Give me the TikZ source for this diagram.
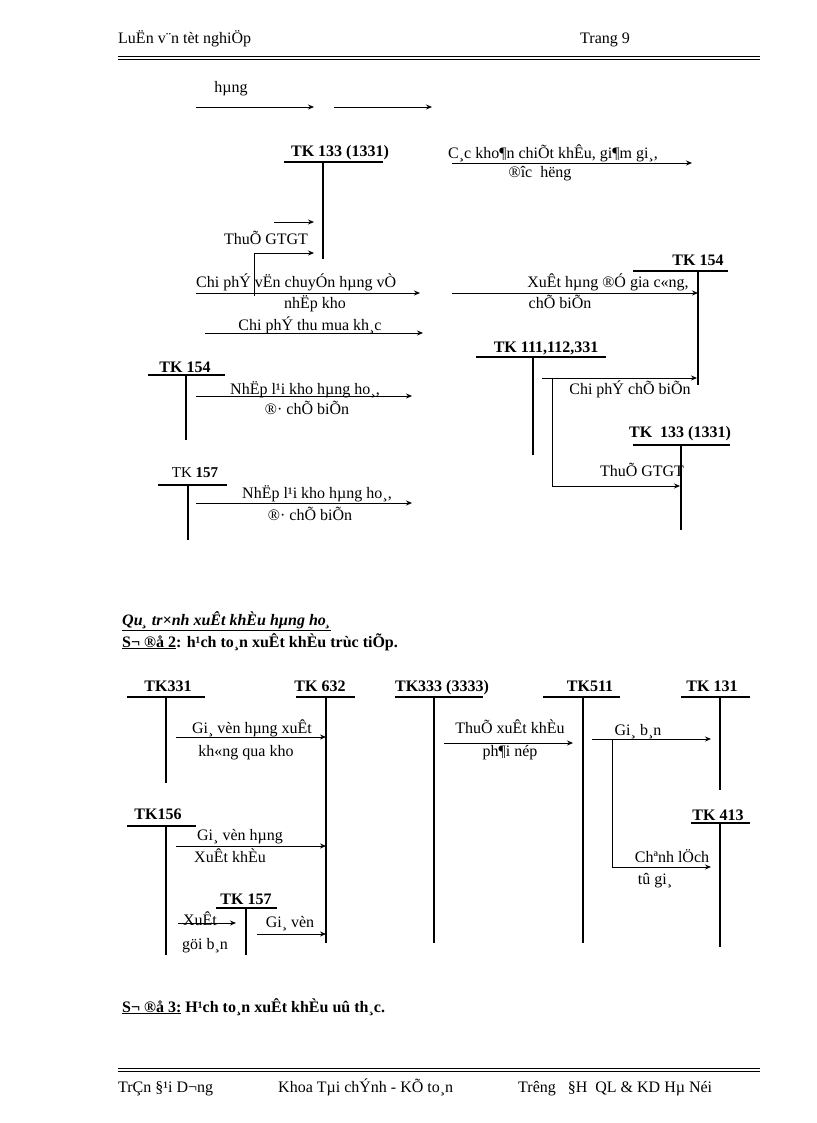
\documentclass[tikz,border=0pt]{standalone}
\usepackage{fontspec}
\setmainfont{Liberation Serif}
\usetikzlibrary{arrows.meta}
\begin{document}
\begin{tikzpicture}[x=1pt,y=-1pt,
  txt/.style={font=\fontsize{16}{18}\selectfont,inner sep=0pt,anchor=base},
  tk/.style={font=\bfseries\fontsize{16}{18}\selectfont,inner sep=0pt,anchor=base},
  acc/.style={line width=1.8pt},
  ul/.style={line width=1.8pt},
  arr/.style={line width=0.8pt,-{Stealth[length=6pt,width=5pt]}},
  ln/.style={line width=0.8pt}]
\useasboundingbox (0,0) rectangle (816,1123);
% header / footer
\node[txt,anchor=base west] (h1) at (118,44) {LuËn v¨n tèt nghiÖp};
\node[txt,anchor=base west] (h2) at (580,44) {Trang 9};
\draw[line width=0.8pt] (118,56) -- (760,56); \draw[line width=0.8pt] (118,59) -- (760,59);
\draw[line width=0.8pt] (118,1068) -- (760,1068); \draw[line width=0.8pt] (118,1071) -- (760,1071);
\node[txt,anchor=base west] (f1) at (118,1092) {TrÇn §¹i D¬ng};
\node[txt,anchor=base west] (f2) at (278,1092) {Khoa Tµi chÝnh - KÕ to¸n};
\node[txt,anchor=base west] (f3) at (518,1092) {Trêng \ \ §H\ \ QL \& KD Hµ Néi};
% ---- top diagram
\node[txt] (hung) at (231,93) {hµng};
\coordinate (a1s) at (196,107); \coordinate (a1e) at (314,107);
\coordinate (a2s) at (334,107); \coordinate (a2e) at (432,107);
\draw[arr] (a1s) -- (a1e); \draw[arr] (a2s) -- (a2e);
\node[tk] (tk133) at (340,157) {TK 133 (1331)};
\draw[ul] (284,162) -- (383,162);
\coordinate (v133t) at (323,162); \coordinate (v133b) at (323,259);
\draw[line width=1.4pt] (v133t) -- (v133b);
\node[txt,anchor=base west] (ck) at (448,159) {C¸c kho¶n chiÕt khÊu, gi¶m gi¸,};
\draw[arr] (452,163) -- (692,163);
\node[txt] (dh) at (540,178) {®îc \ hëng};
\draw[arr] (274,222) -- (314,222);
\node[txt] (gt1) at (266,244) {ThuÕ GTGT};
\draw[ln,-{Stealth[length=6pt,width=5pt]}] (254,296) -- (254,253) -- (314,253);
\node[txt,anchor=base west] (cpvc) at (196,287) {Chi phÝ vËn chuyÓn hµng vÒ};
\draw[arr] (196,293) -- (420,293);
\node[txt] (nk) at (315,308) {nhËp kho};
\node[txt] (xh) at (608,287) {XuÊt hµng ®Ó gia c«ng,};
\draw[arr] (452,293) -- (698,293);
\node[txt] (cb1) at (560,308) {chÕ biÕn};
\node[tk] (tk154r) at (698,265) {TK 154};
\draw[ul] (633,271) -- (728,271);
\draw[line width=1.4pt] (698,271) -- (698,385);
\node[txt] (cptm) at (310,330) {Chi phÝ thu mua kh¸c};
\draw[arr] (205,333) -- (423,333);
\node[tk] (tk111) at (546,352) {TK 111,112,331};
\draw[ul] (476,357) -- (606,357);
\draw[line width=1.4pt] (533,357) -- (533,455);
\draw[arr] (542,378) -- (697,378);
\node[txt] (cpcb) at (630,394) {Chi phÝ chÕ biÕn};
\draw[ln,-{Stealth[length=6pt,width=5pt]}] (552,378) -- (552,486) -- (680,486);
\node[tk] (tk133r) at (680,437) {TK\ \ 133 (1331)};
\draw[ul] (633,445) -- (730,445);
\draw[line width=1.4pt] (681,445) -- (681,530);
\node[txt] (gt2) at (642,476) {ThuÕ GTGT};
\node[tk] (tk154l) at (185,372) {TK 154};
\draw[ul] (148,375) -- (225,375);
\draw[line width=1.4pt] (186,375) -- (186,440);
\node[txt] (nl1) at (305,394) {NhËp l¹i kho hµng ho¸,};
\draw[arr] (196,396) -- (412,396);
\node[txt] (dcb1) at (307,414) {®· chÕ biÕn};
\node[tk] (tk157) at (195,477) {\mdseries\fontsize{15}{18}\selectfont TK \bfseries 157};
\draw[ul] (158,485) -- (227,485);
\draw[line width=1.4pt] (188,485) -- (188,540);
\node[txt] (nl2) at (317,498) {NhËp l¹i kho hµng ho¸,};
\draw[arr] (196,503) -- (412,503);
\node[txt] (dcb2) at (310,520) {®· chÕ biÕn};
% ---- titles
\node[txt,anchor=base west,font=\bfseries\itshape\fontsize{16}{18}\selectfont] (qt) at (122,625) {\underline{Qu¸ tr×nh xuÊt khÈu hµng ho¸}};
\node[txt,anchor=base west,font=\bfseries\fontsize{16}{18}\selectfont] (sd2) at (122,647) {\underline{S¬ ®å 2}: h¹ch to¸n xuÊt khÈu trùc tiÕp.};
\node[txt,anchor=base west,font=\bfseries\fontsize{16}{18}\selectfont] (sd3) at (122,1012) {\underline{S¬ ®å 3:} H¹ch to¸n xuÊt khÈu uû th¸c.};
% ---- lower diagram
\node[tk] (t331) at (168,691) {TK331};
\draw[ul] (127,697) -- (205,697);
\draw[line width=1.4pt] (166,697) -- (166,783);
\node[tk] (t632) at (320,691) {TK 632};
\draw[ul] (296,697) -- (355,697);
\draw[line width=1.4pt] (326,697) -- (326,943);
\node[tk] (t333) at (442,691) {TK333 (3333)};
\draw[ul] (395,697) -- (483,697);
\draw[line width=1.4pt] (434,697) -- (434,943);
\node[tk] (t511) at (590,691) {TK511};
\draw[ul] (543,697) -- (620,697);
\draw[line width=1.4pt] (583,697) -- (583,943);
\node[tk] (t131) at (712,691) {TK 131};
\draw[ul] (681,697) -- (750,697);
\draw[line width=1.4pt] (720,697) -- (720,790);
\node[txt] (gv1) at (252,733) {Gi¸ vèn hµng xuÊt};
\draw[arr] (176,737) -- (326,737);
\node[txt] (kqk) at (246,756) {kh«ng qua kho};
\node[txt] (txk) at (510,733) {ThuÕ xuÊt khÈu};
\draw[arr] (444,743) -- (573,743);
\node[txt] (pn) at (510,756) {ph¶i nép};
\node[txt] (gb) at (638,735) {Gi¸ b¸n};
\draw[arr] (592,739) -- (711,739);
\draw[ln,-{Stealth[length=6pt,width=5pt]}] (612,739) -- (612,867) -- (711,867);
\node[tk] (t413) at (718,820) {TK 413};
\draw[ul] (691,823) -- (750,823);
\draw[line width=1.4pt] (720,823) -- (720,947);
\node[txt] (cl) at (672,862) {Chªnh lÖch};
\node[txt] (tg) at (655,884) {tû gi¸};
\node[tk] (t156) at (158,819) {TK156};
\draw[ul] (127,826) -- (196,826);
\draw[line width=1.4pt] (166,826) -- (166,955);
\node[txt] (gvh) at (240,840) {Gi¸ vèn hµng};
\draw[arr] (176,846) -- (326,846);
\node[txt] (xk) at (230,862) {XuÊt khÈu};
\node[tk] (t157b) at (246,904) {TK 157};
\draw[ul] (216,908) -- (277,908);
\draw[line width=1.4pt] (246,908) -- (246,955);
\node[txt] (xu) at (200,925) {XuÊt};
\draw[arr] (178,923) -- (236,923);
\node[txt] (gbn) at (205,949) {göi b¸n};
\node[txt] (gv2) at (290,927) {Gi¸ vèn};
\draw[arr] (257,934) -- (326,934);
\end{tikzpicture}
\end{document}
